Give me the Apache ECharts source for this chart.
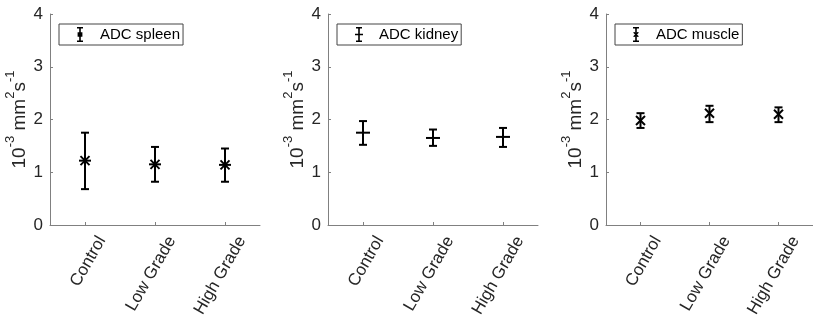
<!DOCTYPE html>
<html>
<head>
<meta charset="utf-8">
<script src="https://cdn.jsdelivr.net/npm/echarts@6/dist/echarts.min.js"></script>
<style>
html, body { margin: 0; padding: 0; background: #fff; }
#chart { width: 813px; height: 330px; }
</style>
</head>
<body>
<div id="chart"></div>
<script>
// categories and tick labels
var categories = ['Control', 'Low Grade', 'High Grade'];
var yTicks = [0, 1, 2, 3, 4];

// ADC spleen: mean, lower and upper end of error bar
var spleenMean = [1.22, 1.15, 1.14];
var spleenLow = [0.68, 0.82, 0.82];
var spleenHigh = [1.75, 1.48, 1.45];

// ADC kidney
var kidneyMean = [1.75, 1.65, 1.67];
var kidneyLow = [1.52, 1.50, 1.48];
var kidneyHigh = [1.97, 1.81, 1.84];

// ADC muscle
var muscleMean = [1.98, 2.12, 2.10];
var muscleLow = [1.84, 1.95, 1.95];
var muscleHigh = [2.12, 2.26, 2.23];

var fontName = '"Liberation Sans", Arial, sans-serif';
var axisGray = '#808080';
var textColor = '#262626';

function rows(mean, low, high) {
    var out = [];
    for (var i = 0; i < mean.length; i++) {
        out.push([i, mean[i], low[i], high[i]]);
    }
    return out;
}

// draws one error bar plus the marker
function makeRender(marker) {
    return function (params, api) {
        var x = api.value(0);
        var pm = api.coord([x, api.value(1)]);
        var pl = api.coord([x, api.value(2)]);
        var ph = api.coord([x, api.value(3)]);
        var st = { stroke: '#000', lineWidth: 2 };
        var cap = 4;
        var kids = [
            { type: 'line', shape: { x1: pl[0], y1: pl[1], x2: ph[0], y2: ph[1] }, style: st },
            { type: 'line', shape: { x1: ph[0] - cap, y1: ph[1], x2: ph[0] + cap, y2: ph[1] }, style: st },
            { type: 'line', shape: { x1: pl[0] - cap, y1: pl[1], x2: pl[0] + cap, y2: pl[1] }, style: st }
        ];
        var cx = pm[0], cy = pm[1];
        if (marker == 'star') {
            var r = 6;
            kids.push({ type: 'line', shape: { x1: cx - r, y1: cy, x2: cx + r, y2: cy }, style: st });
            kids.push({ type: 'line', shape: { x1: cx, y1: cy - r, x2: cx, y2: cy + r }, style: st });
            kids.push({ type: 'line', shape: { x1: cx - 4.5, y1: cy - 4.5, x2: cx + 4.5, y2: cy + 4.5 }, style: st });
            kids.push({ type: 'line', shape: { x1: cx - 4.5, y1: cy + 4.5, x2: cx + 4.5, y2: cy - 4.5 }, style: st });
        } else if (marker == 'plus') {
            kids.push({ type: 'line', shape: { x1: cx - 7, y1: cy, x2: cx + 7, y2: cy }, style: st });
        } else {
            kids.push({ type: 'line', shape: { x1: cx - 4.5, y1: cy - 4.5, x2: cx + 4.5, y2: cy + 4.5 }, style: st });
            kids.push({ type: 'line', shape: { x1: cx - 4.5, y1: cy + 4.5, x2: cx + 4.5, y2: cy - 4.5 }, style: st });
        }
        return { type: 'group', children: kids };
    };
}

var barIcon = 'M2,0L8,0L8,1.5L2,1.5Z M4.2,0L5.8,0L5.8,15L4.2,15Z M2,13.5L8,13.5L8,15L2,15Z';
var icons = {
    star: 'path://' + barIcon + ' M2.6,5.2L7.4,5.2L7.4,9.8L2.6,9.8Z',
    plus: 'path://' + barIcon + ' M1,6.8L9,6.8L9,8.2L1,8.2Z',
    cross: 'path://' + barIcon + ' M2.5,5L3.5,5L7.5,9L7.5,10L6.5,10L2.5,6Z M6.5,5L7.5,5L7.5,6L3.5,10L2.5,10L2.5,9Z'
};

var panels = [
    { name: 'ADC spleen', left: 50, marker: 'star', data: rows(spleenMean, spleenLow, spleenHigh) },
    { name: 'ADC kidney', left: 328, marker: 'plus', data: rows(kidneyMean, kidneyLow, kidneyHigh) },
    { name: 'ADC muscle', left: 606, marker: 'cross', data: rows(muscleMean, muscleLow, muscleHigh) }
];

var grids = [], xAxes = [], yAxes = [], series = [], legends = [];
for (var i = 0; i < panels.length; i++) {
    var p = panels[i];
    grids.push({ left: p.left, width: 210, top: 14, height: 211 });
    xAxes.push({
        type: 'category',
        gridIndex: i,
        data: categories,
        boundaryGap: true,
        axisLine: { lineStyle: { color: axisGray, width: 1 } },
        axisTick: { show: true, inside: true, length: 3, alignWithLabel: true, lineStyle: { color: axisGray } },
        axisLabel: {
            rotate: 60, margin: 3, fontSize: 17, color: textColor, fontFamily: fontName, interval: 0,
            verticalAlign: 'top', padding: [11, 0, 0, 0]
        },
        splitLine: { show: false }
    });
    yAxes.push({
        type: 'value',
        gridIndex: i,
        min: yTicks[0],
        max: yTicks[yTicks.length - 1],
        interval: 1,
        name: '{b|10}{s|-3}{b| mm}{s|2}{b|s}{s|-1}',
        nameLocation: 'middle',
        nameRotate: 90,
        nameGap: 13,
        nameTextStyle: {
            color: textColor,
            fontFamily: fontName,
            rich: {
                b: { fontSize: 19, fontFamily: fontName, color: textColor, lineHeight: 26, verticalAlign: 'bottom' },
                s: { fontSize: 13, fontFamily: fontName, color: textColor, lineHeight: 14, verticalAlign: 'top' }
            }
        },
        axisLine: { show: true, lineStyle: { color: axisGray, width: 1 } },
        axisTick: { show: true, inside: true, length: 3, lineStyle: { color: axisGray } },
        axisLabel: { fontSize: 17, color: textColor, fontFamily: fontName, margin: 7 },
        splitLine: { show: false }
    });
    series.push({
        type: 'custom',
        name: p.name,
        xAxisIndex: i,
        yAxisIndex: i,
        itemStyle: { color: '#000' },
        encode: { x: 0, y: 1 },
        renderItem: makeRender(p.marker),
        data: p.data,
        z: 5
    });
    legends.push({
        data: [{ name: p.name, icon: icons[p.marker] }],
        left: p.left + 9,
        top: 24,
        orient: 'vertical',
        padding: [3, 3, 3, 18],
        itemWidth: 30,
        itemHeight: 15,
        borderColor: '#444',
        borderWidth: 1,
        borderRadius: 0,
        backgroundColor: '#fff',
        selectedMode: false,
        textStyle: { fontSize: 15, color: '#000', fontFamily: fontName }
    });
}

var chart = echarts.init(document.getElementById('chart'));
chart.setOption({
    animation: false,
    backgroundColor: '#fff',
    grid: grids,
    xAxis: xAxes,
    yAxis: yAxes,
    legend: legends,
    series: series
});
</script>
</body>
</html>
